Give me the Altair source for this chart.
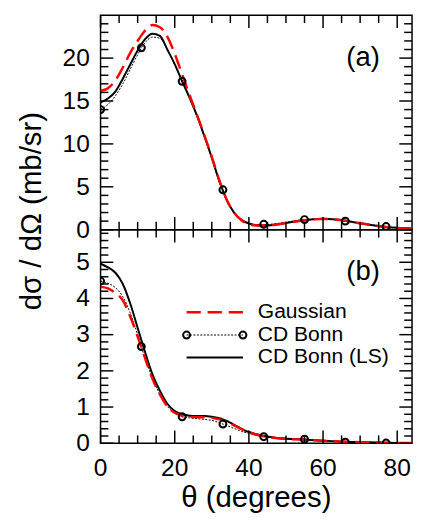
import altair as alt
import pandas as pd

FONT = "Liberation Sans"

# ---------------- data ----------------
SERIES = ["Gaussian", "CD Bonn", "CD Bonn (LS)"]
THETA = [0, 2, 4, 6, 8, 10, 11, 12, 14, 16, 18, 20, 22, 24, 26, 28, 30, 32, 33, 34,
         36, 38, 40, 42, 44, 46, 48, 50, 55, 60, 66, 70, 77, 80, 84]

A_GAUSS = [16.2, 16.5, 17.4, 18.9, 20.6, 22.0, 22.65, 23.2, 23.85, 23.6, 22.5, 20.5, 18.1, 15.7,
           13.4, 11.0, 8.5, 5.8, 4.6, 3.5, 2.0, 1.1, 0.66, 0.5, 0.48, 0.52, 0.63, 0.78, 1.1,
           1.25, 1.05, 0.75, 0.32, 0.2, 0.12]
A_CDB = [14.0, 14.6, 15.6, 17.0, 18.7, 20.4, 21.2, 21.8, 22.45, 22.3, 21.0, 19.2, 17.3, 15.3,
         13.2, 10.8, 8.3, 5.6, 4.65, 3.5, 2.0, 1.15, 0.75, 0.6, 0.6, 0.65, 0.75, 0.87, 1.18,
         1.25, 1.0, 0.75, 0.37, 0.22, 0.15]
A_LS = [14.85, 15.3, 16.1, 17.6, 19.25, 20.9, 21.6, 22.2, 22.85, 22.6, 21.0, 19.3, 17.3, 15.4,
        13.3, 10.9, 8.4, 5.7, 4.55, 3.5, 2.0, 1.15, 0.72, 0.52, 0.48, 0.52, 0.63, 0.78, 1.1,
        1.27, 1.05, 0.75, 0.32, 0.22, 0.15]

B_GAUSS = [4.32, 4.28, 4.15, 3.95, 3.5, 2.95, 2.65, 2.35, 1.78, 1.35, 1.02, 0.84, 0.76, 0.73,
           0.72, 0.72, 0.7, 0.66, 0.63, 0.59, 0.49, 0.39, 0.3, 0.24, 0.19, 0.16, 0.14, 0.12,
           0.1, 0.07, 0.04, 0.03, 0.015, 0.01, 0.01]
B_CDB = [4.48, 4.42, 4.3, 4.05, 3.6, 3.0, 2.67, 2.35, 1.8, 1.35, 1.02, 0.83, 0.73, 0.7, 0.68,
         0.66, 0.63, 0.57, 0.53, 0.49, 0.41, 0.33, 0.27, 0.22, 0.18, 0.16, 0.15, 0.14, 0.11,
         0.07, 0.03, 0.02, 0.005, 0.005, 0.005]
B_LS = [4.96, 4.86, 4.71, 4.4, 3.86, 3.19, 2.85, 2.52, 1.9, 1.45, 1.09, 0.89, 0.8, 0.76, 0.75,
        0.75, 0.73, 0.69, 0.66, 0.62, 0.51, 0.4, 0.31, 0.25, 0.2, 0.17, 0.14, 0.125, 0.1, 0.07,
        0.04, 0.03, 0.015, 0.01, 0.01]

PT_THETA = [0, 11, 22, 33, 44, 55, 66, 77]
A_PTS = [14.0, 21.2, 17.3, 4.65, 0.63, 1.18, 1.0, 0.37]
B_PTS = [4.48, 2.67, 0.73, 0.53, 0.18, 0.11, 0.03, 0.005]

# ---------------- axes / ticks ----------------
X_DOMAIN = [0, 84]
A_DOMAIN = [0, 25]
B_DOMAIN = [0, 5.9]
X_MAJOR = [0, 20, 40, 60, 80]
X_MINOR = [5, 10, 15, 25, 30, 35, 45, 50, 55, 65, 70, 75]
A_Y_MAJOR = [0, 5, 10, 15, 20]
A_Y_MINOR = [1, 2, 3, 4, 6, 7, 8, 9, 11, 12, 13, 14, 16, 17, 18, 19, 21, 22, 23, 24]
B_Y_MAJOR = [0, 1, 2, 3, 4, 5]
B_Y_MINOR = [0.2, 0.4, 0.6, 0.8, 1.2, 1.4, 1.6, 1.8, 2.2, 2.4, 2.6, 2.8, 3.2, 3.4, 3.6,
             3.8, 4.2, 4.4, 4.6, 4.8, 5.2, 5.4, 5.6, 5.8]
Y_TITLE = "dσ / dΩ (mb/sr)"
X_TITLE = "θ (degrees)"

# ---------------- layout constants ----------------
W, HA, HB = 318, 219, 218
MAJ, MIN = 13, 8
TAG_X = 70.8
TAG_Y = {"(a)": 19.1, "(b)": 4.5}
LEG_X0, LEG_X1, LEG_TX = 23.2, 38.4, 42.4
LEG_Y = [3.62, 2.99, 2.37]

STYLE = {
    "Gaussian": dict(color="#ff0000", strokeWidth=2.5, strokeDash=[14.5, 7]),
    "CD Bonn": dict(color="black", strokeWidth=1, strokeDash=[2, 1.5]),
    "CD Bonn (LS)": dict(color="black", strokeWidth=2),
}


def long_df(g, c, l):
    rows = []
    for name, vals in zip(SERIES, [g, c, l]):
        for t, v in zip(THETA, vals):
            rows.append({"theta": t, "value": v, "series": name})
    return pd.DataFrame(rows)


def panel(vals, pts, ydom, ymaj, ymin, tag, h, legend, xlabels, ytitle):
    df = long_df(*vals)
    pdf = pd.DataFrame({"theta": PT_THETA, "value": pts})
    xs = alt.Scale(domain=X_DOMAIN, nice=False, zero=False)
    ys = alt.Scale(domain=ydom, nice=False, zero=False)

    def X(f):
        return alt.X(f, type="quantitative", scale=xs, axis=None)

    def Y(f):
        return alt.Y(f, type="quantitative", scale=ys, axis=None)

    def curve(name):
        return alt.Chart(df).transform_filter(alt.datum.series == name).mark_line(
            interpolate="monotone", clip=True, **STYLE[name]
        ).encode(x=X("theta"), y=Y("value"))

    layers = [curve("CD Bonn"), curve("CD Bonn (LS)"), curve("Gaussian")]

    # inward tick marks on all four sides
    for vals_, n in ((ymaj, MAJ), (ymin, MIN)):
        tdf = pd.DataFrame({"v": vals_})
        for x0 in (0, W - n):
            layers.append(alt.Chart(tdf).mark_rule(color="black", strokeWidth=1.5).encode(
                y=Y("v"), x=alt.value(x0), x2=alt.value(x0 + n)))
    for vals_, n in ((X_MAJOR, MAJ), (X_MINOR, MIN)):
        tdf = pd.DataFrame({"v": vals_})
        for y0 in (0, h - n):
            layers.append(alt.Chart(tdf).mark_rule(color="black", strokeWidth=1.5).encode(
                x=X("v"), y=alt.value(y0), y2=alt.value(y0 + n)))

    # tick labels and axis titles
    layers.append(alt.Chart(pd.DataFrame({"v": ymaj})).mark_text(
        font=FONT, fontSize=25, align="right", baseline="middle", dx=-11, color="black"
    ).encode(y=Y("v"), x=alt.value(0), text=alt.Text("v:Q", format="d")))
    if xlabels:
        layers.append(alt.Chart(pd.DataFrame({"v": X_MAJOR})).mark_text(
            font=FONT, fontSize=25, align="center", baseline="top", dy=13, color="black"
        ).encode(x=X("v"), y=alt.value(h), text=alt.Text("v:Q", format="d")))
        layers.append(alt.Chart(pd.DataFrame({"t": [X_TITLE]})).mark_text(
            font=FONT, fontSize=30, align="center", baseline="alphabetic", color="black"
        ).encode(x=alt.value(W / 2), y=alt.value(h + 65), text="t:N"))
    if ytitle:
        layers.append(alt.Chart(pd.DataFrame({"t": [Y_TITLE]})).mark_text(
            font=FONT, fontSize=30, align="center", baseline="alphabetic", angle=270,
            color="black"
        ).encode(x=alt.value(-60.3), y=alt.value(200), text="t:N"))

    layers.append(alt.Chart(pdf).mark_point(shape="circle", filled=False, size=50,
                                            strokeWidth=2, color="black", opacity=1,
                                            clip=True).encode(x=X("theta"), y=Y("value")))
    tdf = pd.DataFrame({"tag": [tag], "x": [TAG_X], "y": [TAG_Y[tag]]})
    layers.append(alt.Chart(tdf).mark_text(font=FONT, fontSize=28, align="center",
                                           baseline="alphabetic", color="black").encode(
        x=X("x"), y=Y("y"), text="tag:N"))
    if legend:
        ldf = pd.DataFrame({"series": SERIES, "x0": [LEG_X0] * 3, "x1": [LEG_X1] * 3,
                            "tx": [LEG_TX] * 3, "y": LEG_Y})
        for name in SERIES:
            layers.append(alt.Chart(ldf).transform_filter(alt.datum.series == name)
                          .mark_rule(**STYLE[name]).encode(x=X("x0"), x2="x1:Q", y=Y("y")))
        layers.append(alt.Chart(ldf).transform_filter(alt.datum.series == "CD Bonn")
                      .transform_fold(["x0", "x1"], as_=["end", "xpos"])
                      .mark_point(shape="circle", filled=False, size=50, strokeWidth=2,
                                  color="black", opacity=1).encode(x=X("xpos"), y=Y("y")))
        layers.append(alt.Chart(ldf).mark_text(font=FONT, fontSize=21.5, align="left",
                                                baseline="middle", color="black").encode(
            x=X("tx"), y=Y("y"), text="series:N"))
    return alt.layer(*layers).properties(width=W, height=h)


pa = panel((A_GAUSS, A_CDB, A_LS), A_PTS, A_DOMAIN, A_Y_MAJOR, A_Y_MINOR, "(a)", HA,
           False, False, True)
pb = panel((B_GAUSS, B_CDB, B_LS), B_PTS, B_DOMAIN, B_Y_MAJOR, B_Y_MINOR, "(b)", HB,
           True, True, False)

chart = alt.vconcat(pa, pb, spacing=0, bounds="flush").properties(
    padding={"left": 8.5, "top": 0, "right": 0, "bottom": 0}
).configure_view(stroke="black", strokeWidth=1.5)

chart.save("out.html", embed_options={"renderer": "svg", "actions": False})
